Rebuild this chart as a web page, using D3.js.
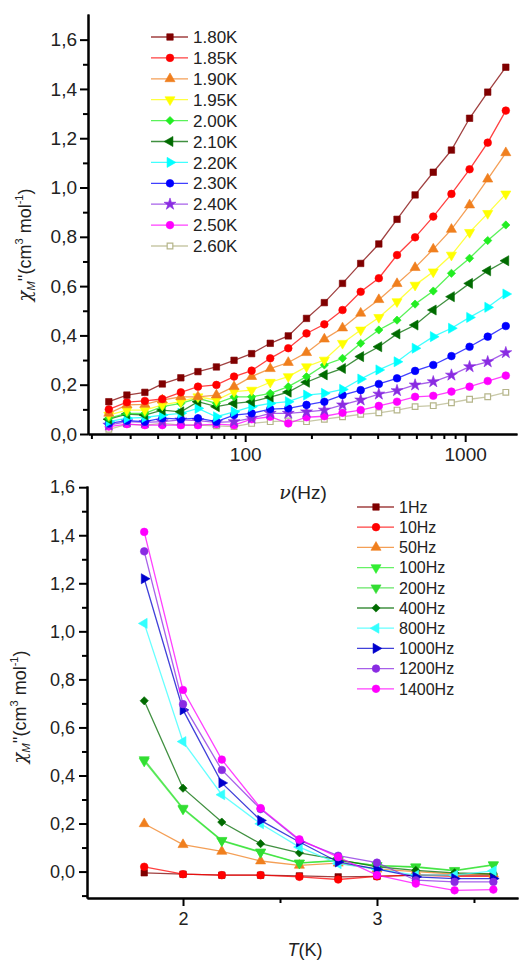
<!DOCTYPE html>
<html>
<head>
<meta charset="utf-8">
<script src="https://cdn.jsdelivr.net/npm/d3@7"></script>
<style>
  body { margin: 0; background: #fff; }
  svg { font-family: "Liberation Sans", Arial, sans-serif; }
</style>
</head>
<body>
<svg id="chart" width="520" height="962"></svg>
<script>
// ---- top panel: chi'' vs frequency at several temperatures ----
const freqs = [24, 29, 35, 42, 51, 61, 74, 89, 107, 130, 157, 190, 229, 277, 335, 405, 490, 592, 716, 866, 1047, 1266, 1530];
const tempLabels = ["1.80K", "1.85K", "1.90K", "1.95K", "2.00K", "2.10K", "2.20K", "2.30K", "2.40K", "2.50K", "2.60K"];
const t180 = [0.131, 0.158, 0.169, 0.203, 0.228, 0.253, 0.272, 0.299, 0.326, 0.368, 0.398, 0.469, 0.533, 0.611, 0.692, 0.771, 0.871, 0.970, 1.062, 1.152, 1.281, 1.387, 1.488];
const t185 = [0.100, 0.129, 0.134, 0.142, 0.169, 0.192, 0.199, 0.233, 0.257, 0.307, 0.348, 0.408, 0.445, 0.503, 0.577, 0.632, 0.726, 0.798, 0.882, 0.974, 1.074, 1.182, 1.312];
const t190 = [0.084, 0.118, 0.120, 0.138, 0.151, 0.151, 0.158, 0.192, 0.233, 0.265, 0.290, 0.330, 0.385, 0.430, 0.490, 0.545, 0.610, 0.675, 0.750, 0.830, 0.929, 1.034, 1.141];
const t195 = [0.077, 0.097, 0.097, 0.118, 0.131, 0.151, 0.138, 0.172, 0.178, 0.210, 0.233, 0.273, 0.300, 0.368, 0.422, 0.473, 0.537, 0.604, 0.658, 0.726, 0.818, 0.895, 0.974];
const t200 = [0.064, 0.084, 0.084, 0.111, 0.124, 0.145, 0.124, 0.151, 0.151, 0.165, 0.192, 0.233, 0.280, 0.307, 0.368, 0.422, 0.462, 0.527, 0.580, 0.652, 0.713, 0.785, 0.848];
const t210 = [0.060, 0.081, 0.077, 0.097, 0.090, 0.131, 0.111, 0.124, 0.131, 0.150, 0.170, 0.210, 0.240, 0.266, 0.314, 0.354, 0.406, 0.442, 0.503, 0.557, 0.611, 0.662, 0.703];
const t220 = [0.050, 0.064, 0.067, 0.077, 0.084, 0.104, 0.070, 0.090, 0.111, 0.124, 0.131, 0.158, 0.165, 0.181, 0.223, 0.260, 0.293, 0.348, 0.395, 0.429, 0.473, 0.514, 0.568];
const t230 = [0.043, 0.054, 0.050, 0.064, 0.060, 0.064, 0.050, 0.077, 0.084, 0.101, 0.104, 0.118, 0.131, 0.158, 0.178, 0.203, 0.226, 0.256, 0.280, 0.316, 0.354, 0.395, 0.438];
const t240 = [0.036, 0.050, 0.047, 0.050, 0.057, 0.054, 0.047, 0.050, 0.064, 0.084, 0.084, 0.090, 0.097, 0.118, 0.138, 0.162, 0.176, 0.199, 0.212, 0.239, 0.273, 0.293, 0.330];
const t250 = [0.030, 0.040, 0.036, 0.036, 0.036, 0.036, 0.040, 0.036, 0.060, 0.070, 0.043, 0.068, 0.072, 0.086, 0.097, 0.114, 0.131, 0.151, 0.155, 0.172, 0.192, 0.215, 0.237];
const t260 = [0.019, 0.039, 0.036, 0.043, 0.036, 0.036, 0.033, 0.030, 0.043, 0.050, 0.053, 0.050, 0.060, 0.070, 0.080, 0.086, 0.097, 0.111, 0.115, 0.127, 0.141, 0.151, 0.169];
const topValues = [t180, t185, t190, t195, t200, t210, t220, t230, t240, t250, t260];

// ---- bottom panel: chi'' vs temperature at several frequencies ----
const temps = [1.8, 2.0, 2.2, 2.4, 2.6, 2.8, 3.0, 3.2, 3.4, 3.6];
const freqLabels = ["1Hz", "10Hz", "50Hz", "100Hz", "200Hz", "400Hz", "800Hz", "1000Hz", "1200Hz", "1400Hz"];
const f1 = [-0.005, -0.011, -0.015, -0.015, -0.018, -0.022, -0.020, -0.015, -0.015, -0.015];
const f10 = [0.020, -0.011, -0.015, -0.015, -0.022, -0.033, -0.020, -0.015, -0.020, -0.020];
const f50 = [0.199, 0.112, 0.084, 0.044, 0.026, 0.035, 0.010, 0.000, -0.010, -0.010];
const f100 = [0.460, 0.260, 0.128, 0.080, 0.035, 0.045, 0.025, 0.018, 0.003, 0.027];
const f200 = [0.466, 0.264, 0.130, 0.082, 0.036, 0.047, 0.025, 0.020, 0.005, 0.029];
const f400 = [0.711, 0.347, 0.206, 0.116, 0.078, 0.050, 0.020, 0.005, -0.005, -0.010];
const f800 = [1.033, 0.541, 0.320, 0.199, 0.102, 0.033, 0.010, -0.015, -0.015, 0.003];
const f1000 = [1.219, 0.673, 0.369, 0.213, 0.123, 0.040, 0.010, -0.022, -0.029, -0.029];
const f1200 = [1.333, 0.697, 0.423, 0.260, 0.130, 0.066, 0.037, -0.036, -0.043, -0.043];
const f1400 = [1.414, 0.756, 0.466, 0.264, 0.134, 0.060, -0.015, -0.050, -0.078, -0.075];
const bottomValues = [f1, f10, f50, f100, f200, f400, f800, f1000, f1200, f1400];

// colours and marker shapes
const topColors = ["#800000", "#ff0000", "#f07f1e", "#ffff00", "#22ee22", "#006b00", "#00ffff", "#0000ff", "#8a2be2", "#ff00ff", "#b5b58a"];
const topShapes = ["square", "circle", "up", "down", "diamond", "left", "right", "circle", "star", "circle", "opensquare"];
const botColors = ["#800000", "#ff0000", "#f07f1e", "#33ee33", "#33dd33", "#006b00", "#33ffff", "#0000cc", "#8a2be2", "#ff00ff"];
const botShapes = ["square", "circle", "up", "down", "down", "diamond", "left", "right", "circle", "circle"];

const svg = d3.select("#chart");
const comma = d3.formatLocale({decimal: ",", thousands: ".", grouping: [3], currency: ["", ""]}).format(".1f");

// draw one marker at (x, y)
function marker(g, shape, color, x, y) {
	let type = d3.symbolSquare, size = 42, rot = 0, fill = color, stroke = color;
	if (shape === "circle") { type = d3.symbolCircle; size = 46; }
	if (shape === "up") { type = d3.symbolTriangle; size = 44; }
	if (shape === "down") { type = d3.symbolTriangle; size = 44; rot = 180; }
	if (shape === "left") { type = d3.symbolTriangle; size = 44; rot = -90; }
	if (shape === "right") { type = d3.symbolTriangle; size = 44; rot = 90; }
	if (shape === "diamond") { size = 34; rot = 45; }
	if (shape === "star") { type = d3.symbolStar; size = 44; }
	if (shape === "opensquare") { size = 32; fill = "#fff"; }
	g.append("path")
		.attr("d", d3.symbol().type(type).size(size)())
		.attr("transform", "translate(" + x + "," + y + ") rotate(" + rot + ")")
		.attr("fill", fill)
		.attr("stroke", stroke)
		.attr("stroke-width", shape === "opensquare" ? 1.2 : 0.6);
}

function styleAxis(g) {
	g.selectAll(".domain").attr("stroke-width", 2);
	g.selectAll(".tick line").attr("stroke-width", 2);
	g.selectAll("text").attr("fill", "#222");
}

function yLabel(x, y) {
	const t = svg.append("text")
		.attr("transform", "translate(" + x + "," + y + ") rotate(-90)")
		.attr("text-anchor", "middle")
		.attr("font-size", 18)
		.attr("fill", "#222");
	t.append("tspan").attr("font-style", "italic").attr("font-family", "DejaVu Serif").text("χ");
	t.append("tspan").attr("font-style", "italic").attr("font-size", 11).attr("dy", 4).text("M");
	t.append("tspan").attr("dy", -4).text("''(cm");
	t.append("tspan").attr("font-size", 11).attr("dy", -8).text("3");
	t.append("tspan").attr("dy", 8).text(" mol");
	t.append("tspan").attr("font-size", 11).attr("dy", -8).text("-1");
	t.append("tspan").attr("dy", 8).text(")");
}

function legend(labels, colors, shapes, x0, y0, step, fs) {
	const g = svg.append("g");
	labels.forEach(function (lab, i) {
		const y = y0 + i * step;
		g.append("line").attr("x1", x0).attr("x2", x0 + 37).attr("y1", y).attr("y2", y)
			.attr("stroke", colors[i]).attr("stroke-width", 1.3).attr("stroke-opacity", 0.75);
		marker(g, shapes[i], colors[i], x0 + 19, y);
		g.append("text").attr("x", x0 + 42).attr("y", y).attr("dy", "0.36em")
			.attr("font-size", fs).attr("fill", "#222").text(lab);
	});
}

// ================= TOP PANEL =================
const x1 = d3.scaleLog().domain([19.3, 1720]).range([88, 517]);
const y1 = d3.scaleLinear().domain([0, 1.704]).range([434, 14]);

const topMinorX = [20, 30, 40, 50, 60, 70, 80, 90, 200, 300, 400, 500, 600, 700, 800, 900];
svg.append("g").attr("transform", "translate(0,434)")
	.call(d3.axisBottom(x1).tickValues(topMinorX).tickSize(5).tickSizeOuter(0).tickFormat(""))
	.call(styleAxis);
svg.append("g").attr("transform", "translate(0,434)")
	.call(d3.axisBottom(x1).tickValues([100, 1000]).tickSize(8).tickSizeOuter(0).tickPadding(6).tickFormat(d3.format("d")))
	.call(styleAxis)
	.selectAll("text").attr("font-size", 19);

svg.append("g").attr("transform", "translate(88,0)")
	.call(d3.axisLeft(y1).tickValues([0.1, 0.3, 0.5, 0.7, 0.9, 1.1, 1.3, 1.5]).tickSize(5).tickSizeOuter(0).tickFormat(""))
	.call(styleAxis);
svg.append("g").attr("transform", "translate(88,0)")
	.call(d3.axisLeft(y1).tickValues([0, 0.2, 0.4, 0.6, 0.8, 1.0, 1.2, 1.4, 1.6]).tickSize(8).tickSizeOuter(0).tickPadding(3).tickFormat(comma))
	.call(styleAxis)
	.selectAll("text").attr("font-size", 19);

const topLine = d3.line().x(function (d) { return x1(d[0]); }).y(function (d) { return y1(d[1]); });
const topG = svg.append("g");
// draw from highest temperature to lowest so the low-T curves stay on top
for (let s = topValues.length - 1; s >= 0; s--) {
	const pts = freqs.map(function (f, i) { return [f, topValues[s][i]]; });
	topG.append("path").datum(pts).attr("d", topLine)
		.attr("fill", "none").attr("stroke", topColors[s]).attr("stroke-width", 1.3).attr("stroke-opacity", 0.75);
	pts.forEach(function (p) { marker(topG, topShapes[s], topColors[s], x1(p[0]), y1(p[1])); });
}

legend(tempLabels, topColors, topShapes, 151, 37, 20.9, 17);

yLabel(31, 245);
const tx = svg.append("text").attr("x", 303).attr("y", 499).attr("text-anchor", "middle")
	.attr("font-size", 19).attr("fill", "#222");
tx.append("tspan").attr("font-style", "italic").attr("font-family", "DejaVu Serif").text("ν");
tx.append("tspan").text("(Hz)");

// ================= BOTTOM PANEL =================
const x2 = d3.scaleLinear().domain([1.505, 3.727]).range([87, 518]);
const y2 = d3.scaleLinear().domain([-0.11, 1.605]).range([898, 486]);

svg.append("g").attr("transform", "translate(0,898)")
	.call(d3.axisBottom(x2).tickValues([2.5, 3.5]).tickSize(5).tickSizeOuter(0).tickFormat(""))
	.call(styleAxis);
svg.append("g").attr("transform", "translate(0,898)")
	.call(d3.axisBottom(x2).tickValues([2, 3]).tickSize(8).tickSizeOuter(0).tickPadding(6).tickFormat(d3.format("d")))
	.call(styleAxis)
	.selectAll("text").attr("font-size", 18);

svg.append("g").attr("transform", "translate(87,0)")
	.call(d3.axisLeft(y2).tickValues([-0.1, 0.1, 0.3, 0.5, 0.7, 0.9, 1.1, 1.3, 1.5]).tickSize(5).tickSizeOuter(0).tickFormat(""))
	.call(styleAxis);
svg.append("g").attr("transform", "translate(87,0)")
	.call(d3.axisLeft(y2).tickValues([0, 0.2, 0.4, 0.6, 0.8, 1.0, 1.2, 1.4, 1.6]).tickSize(8).tickSizeOuter(0).tickPadding(4).tickFormat(comma))
	.call(styleAxis)
	.selectAll("text").attr("font-size", 18);

const botLine = d3.line().x(function (d) { return x2(d[0]); }).y(function (d) { return y2(d[1]); });
const botG = svg.append("g");
bottomValues.forEach(function (vals, s) {
	const pts = temps.map(function (t, i) { return [t, vals[i]]; });
	botG.append("path").datum(pts).attr("d", botLine)
		.attr("fill", "none").attr("stroke", botColors[s]).attr("stroke-width", 1.3).attr("stroke-opacity", 0.75);
	pts.forEach(function (p) { marker(botG, botShapes[s], botColors[s], x2(p[0]), y2(p[1])); });
});

legend(freqLabels, botColors, botShapes, 357, 507, 20.2, 16);

yLabel(26, 707);
const bx = svg.append("text").attr("x", 305).attr("y", 956).attr("text-anchor", "middle")
	.attr("font-size", 18).attr("fill", "#222");
bx.append("tspan").attr("font-style", "italic").text("T");
bx.append("tspan").text("(K)");
</script>
</body>
</html>
